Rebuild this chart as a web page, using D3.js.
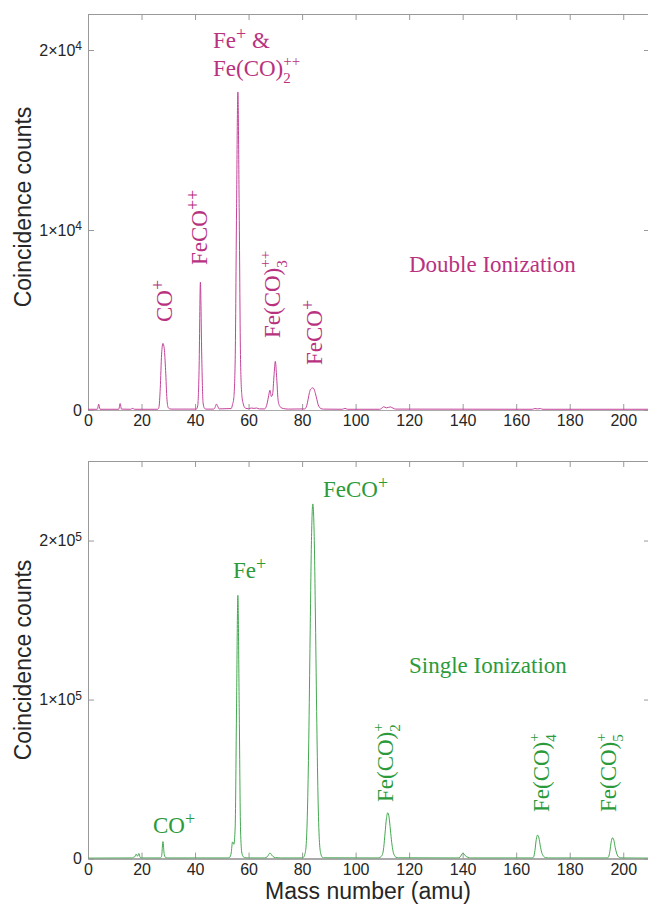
<!DOCTYPE html>
<html>
<head>
<meta charset="utf-8">
<script src="https://cdn.jsdelivr.net/npm/d3@7"></script>
<style>
  body { margin: 0; background: #fff; }
  svg { display: block; }
</style>
</head>
<body>
<svg id="chart"></svg>
<script>
// mass axis (amu) and counts
const massDouble = [0, 3.5, 4, 4.5, 11.5, 12, 12.5, 16, 16.5, 17, 17.5, 26, 26.5, 27, 27.5, 28, 28.5, 29, 29.5, 30, 31,
  40.5, 41, 41.5, 42, 42.5, 43, 43.5, 44, 47, 47.5, 48, 48.5, 49, 53.5, 54, 54.5, 55, 55.5, 56, 56.5, 57, 57.5, 58, 58.5, 59,
  60, 61, 62, 63, 64, 66, 66.5, 67, 67.5, 68, 68.5, 69, 69.5, 70, 70.5, 71, 71.5, 72, 73, 75,
  81, 81.5, 82, 82.5, 83, 83.5, 84, 84.5, 85, 85.5, 86, 86.5, 87, 88, 95, 96, 97,
  109, 110, 110.5, 111.5, 113, 114, 115, 166, 167, 168, 169, 170, 210];
const countsDouble = [40, 40, 320, 40, 40, 360, 50, 40, 90, 70, 40, 40, 150, 1200, 3100, 3700, 3400, 2200, 600, 120, 50,
  50, 250, 2200, 7100, 3000, 400, 100, 50, 50, 150, 330, 200, 60, 80, 300, 700, 2800, 11000, 17670, 11000, 2800, 800, 350, 150, 90,
  70, 110, 90, 110, 60, 60, 150, 400, 800, 1100, 750, 900, 1900, 2700, 1800, 600, 250, 150, 80, 50,
  60, 150, 400, 800, 1100, 1200, 1230, 1150, 900, 600, 300, 150, 80, 50, 40, 90, 40,
  40, 130, 180, 120, 170, 100, 50, 40, 80, 60, 80, 40, 40];

const massSingle = [0, 16.5, 17, 17.5, 18, 18.5, 19, 19.5, 20, 27, 27.5, 28, 28.5, 29, 29.5, 40,
  52, 53, 53.5, 54, 54.5, 55, 55.5, 56, 56.5, 57, 57.5, 58, 58.5, 59, 60, 66, 67, 68, 69, 70, 72,
  80, 80.5, 81, 81.5, 82, 82.5, 83, 83.5, 84, 84.5, 85, 85.5, 86, 86.5, 87, 87.5, 88,
  108, 109, 110, 110.5, 111, 111.5, 112, 112.5, 113, 113.5, 114, 114.5, 115, 116,
  138, 139, 140, 140.5, 141, 142, 143,
  166, 166.5, 167, 167.5, 168, 168.5, 169, 169.5, 170, 170.5, 171, 172,
  194, 194.5, 195, 195.5, 196, 196.5, 197, 197.5, 198, 198.5, 199, 200, 210];
const countsSingle = [300, 400, 800, 1200, 2800, 1500, 3200, 800, 400, 400, 1500, 10700, 2500, 600, 400, 400,
  400, 900, 3500, 10500, 9000, 20000, 95000, 165500, 95000, 18000, 3500, 1200, 700, 500, 400, 400, 1200, 3500, 1500, 600, 400,
  400, 800, 2500, 8000, 30000, 75000, 140000, 200000, 223000, 205000, 150000, 85000, 35000, 10000, 3000, 1000, 500,
  400, 700, 2500, 7000, 16000, 25000, 28800, 26000, 18000, 10000, 4500, 2000, 900, 500,
  400, 900, 3300, 3000, 1800, 800, 400,
  400, 1000, 5000, 12000, 14800, 13000, 8000, 4000, 2000, 1000, 600, 400,
  400, 1000, 4500, 10500, 13100, 11500, 7000, 3500, 1500, 800, 500, 400, 300];

const xTicks = [0, 20, 40, 60, 80, 100, 120, 140, 160, 180, 200];
const yTicksDouble = [0, 10000, 20000];
const yTicksSingle = [0, 100000, 200000];

const W = 648, H = 910;
const sans = "'Liberation Sans', Arial, sans-serif";
const serif = "'Liberation Serif', 'Times New Roman', serif";
const axisGray = '#999';
const pink = '#b8327f', pinkLine = '#c4449a';
const green = '#2b9a3a', greenLine = '#43a84f';

const svg = d3.select('#chart').attr('width', W).attr('height', H);

const x = d3.scaleLinear().domain([0, 210]).range([88, 650]);

function panel(cfg) {
  const y = d3.scaleLinear().domain(cfg.ydomain).range([cfg.bottom, cfg.top]);
  const g = svg.append('g');

  const clipId = 'clip' + cfg.id;
  svg.append('clipPath').attr('id', clipId).append('rect')
    .attr('x', 88).attr('y', cfg.top).attr('width', 562).attr('height', cfg.bottom - cfg.top);

  const data = cfg.mass.map((m, i) => [m, cfg.counts[i]]);
  const line = d3.line().x(d => x(d[0])).y(d => y(d[1])).curve(d3.curveMonotoneX);

  // box + inward ticks on all sides
  const xb = g.append('g').attr('transform', `translate(0,${cfg.bottom})`)
    .call(d3.axisBottom(x).tickValues(xTicks).tickSizeInner(-6).tickSizeOuter(0).tickPadding(5));
  g.append('g').attr('transform', `translate(0,${cfg.top})`)
    .call(d3.axisTop(x).tickValues(xTicks).tickSizeInner(-6).tickSizeOuter(0).tickFormat(''));
  const yl = g.append('g').attr('transform', 'translate(88,0)')
    .call(d3.axisLeft(y).tickValues(cfg.yticks).tickSizeInner(-6).tickSizeOuter(0).tickPadding(6));
  g.append('g').attr('transform', 'translate(650,0)')
    .call(d3.axisRight(y).tickValues(cfg.yticks).tickSizeInner(-6).tickSizeOuter(0).tickFormat(''));

  g.selectAll('.domain, .tick line').attr('stroke', axisGray);
  xb.select('.domain').attr('stroke', '#aaa').attr('stroke-width', cfg.baseWidth);
  g.selectAll('.tick text').attr('fill', '#262626').style('font-family', sans).style('font-size', '16px');

  // y tick labels as a×10^n
  yl.selectAll('.tick text').each(function(d) {
    const t = d3.select(this).text(null);
    if (d === 0) { t.text('0'); return; }
    const e = Math.floor(Math.log10(d));
    const m = d / Math.pow(10, e);
    t.append('tspan').text(m + '×10');
    t.append('tspan').attr('dy', '-0.45em').style('font-size', '12px').text(e);
  });

  g.append('path').datum(data)
    .attr('clip-path', `url(#${clipId})`)
    .attr('fill', 'none').attr('stroke', cfg.lineColor).attr('stroke-width', 1)
    .attr('d', line);

  svg.append('text')
    .attr('transform', `translate(31,${cfg.labelY}) rotate(-90)`)
    .attr('text-anchor', 'middle')
    .style('font-family', sans).style('font-size', '23px').attr('fill', '#262626')
    .text('Coincidence counts');

  return g;
}

// rich label: parts are plain text, {sup}, {sub}, or {sub, sup} stacked
function label(x0, y0, rot, parts, color) {
  const t = svg.append('text')
    .attr('transform', `translate(${x0},${y0}) rotate(${rot})`)
    .attr('fill', color).style('font-family', serif).style('font-size', '23px');
  let shift = 0;
  parts.forEach(p => {
    if (typeof p === 'string') {
      t.append('tspan').attr('dy', -shift).text(p);
      shift = 0;
      return;
    }
    if (p.sub) {
      const s = t.append('tspan').attr('dy', 7 - shift).style('font-size', '15px').text(p.sub);
      shift = 7;
      if (p.sup) {
        const w = s.node().getComputedTextLength();
        t.append('tspan').attr('dx', -w).attr('dy', -10 - shift).style('font-size', '15px').text(p.sup);
        shift = -10;
      }
    } else if (p.sup) {
      t.append('tspan').attr('dy', -8 - shift).style('font-size', '18px').text(p.sup);
      shift = -8;
    }
  });
}

panel({ id: 'd', top: 14, bottom: 410, ydomain: [0, 22000], yticks: yTicksDouble,
  mass: massDouble, counts: countsDouble, lineColor: pinkLine, labelY: 207, baseWidth: 1 });
panel({ id: 's', top: 461, bottom: 858.6, ydomain: [0, 250000], yticks: yTicksSingle,
  mass: massSingle, counts: countsSingle, lineColor: greenLine, labelY: 660, baseWidth: 2 });

svg.append('text')
  .attr('x', 368).attr('y', 899).attr('text-anchor', 'middle')
  .style('font-family', sans).style('font-size', '23px').attr('fill', '#262626')
  .text('Mass number (amu)');

// double ionization annotations
label(213, 48, 0, ['Fe', {sup: '+'}, ' &'], pink);
label(213, 76, 0, ['Fe(CO)', {sub: '2', sup: '++'}], pink);
label(172, 322, -90, ['CO', {sup: '+'}], pink);
label(207, 265, -90, ['FeCO', {sup: '++'}], pink);
label(280, 338, -90, ['Fe(CO)', {sub: '3', sup: '++'}], pink);
label(322, 365, -90, ['FeCO', {sup: '+'}], pink);
label(409, 272, 0, ['Double Ionization'], pink);

// single ionization annotations
label(323, 497, 0, ['FeCO', {sup: '+'}], green);
label(233, 578, 0, ['Fe', {sup: '+'}], green);
label(153, 833, 0, ['CO', {sup: '+'}], green);
label(409, 673, 0, ['Single Ionization'], green);
label(393, 802, -90, ['Fe(CO)', {sub: '2', sup: '+'}], green);
label(549, 812, -90, ['Fe(CO)', {sub: '4', sup: '+'}], green);
label(616, 812, -90, ['Fe(CO)', {sub: '5', sup: '+'}], green);
</script>
</body>
</html>
